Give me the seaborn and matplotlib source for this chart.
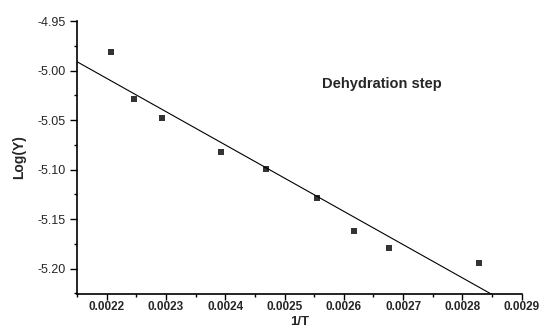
import numpy as np
import pandas as pd
import matplotlib
matplotlib.use('Agg')
import matplotlib.pyplot as plt
import seaborn as sns
from matplotlib.ticker import AutoMinorLocator

# values
inv_t = [0.0022067, 0.0022466, 0.0022933, 0.0023922, 0.0024686,
         0.0025541, 0.0026170, 0.0026755, 0.0028283]
log_y = [-4.981, -5.029, -5.048, -5.0823, -5.0995,
         -5.129, -5.1618, -5.1793, -5.1944]
x_ticks = [0.0022, 0.0023, 0.0024, 0.0025, 0.0026, 0.0027, 0.0028, 0.0029]
y_ticks = [-4.95, -5.00, -5.05, -5.10, -5.15, -5.20]

df = pd.DataFrame({'1/T': inv_t, 'Log(Y)': log_y})

sns.set_style('ticks')
plt.rcParams['font.family'] = ['Liberation Sans', 'DejaVu Sans']

fig = plt.figure(figsize=(5.42, 3.32), dpi=100)
ax = fig.add_axes([0.142, 0.1145, 0.8206, 0.8222])
ax.set_xlim(0.00215, 0.0029)
ax.set_ylim(-5.2256, -4.95)

# fitted line runs across the whole x range (truncate=False)
sns.regplot(data=df, x='1/T', y='Log(Y)', ax=ax, ci=None, truncate=False,
            marker='s', scatter_kws={'s': 16, 'color': 'black', 'linewidths': 0},
            line_kws={'color': 'black', 'linewidth': 0.8})
ax.set_xlim(0.00215, 0.0029)
ax.set_ylim(-5.2256, -4.95)

ax.set_xticks(x_ticks)
ax.set_xticklabels([f'{v:.4f}' for v in x_ticks], fontweight='bold', fontsize=8.5)
ax.set_yticks(y_ticks)
ax.set_yticklabels([f'{v:.2f}' for v in y_ticks], fontsize=9)
ax.xaxis.set_minor_locator(AutoMinorLocator(2))
ax.yaxis.set_minor_locator(AutoMinorLocator(2))
ax.tick_params(which='major', length=5, width=1, color='black', pad=3)
ax.tick_params(axis='x', which='major', length=4, pad=1)
ax.tick_params(which='minor', length=2.5, width=1, color='black')

for side in ['top', 'right']:
    ax.spines[side].set_visible(False)
for side in ['left', 'bottom']:
    ax.spines[side].set_color('black')
    ax.spines[side].set_linewidth(1.2)

ax.set_xlabel('1/T', fontweight='bold', fontsize=9.5)
ax.xaxis.set_label_coords(0.5, -0.082)
ax.set_ylabel('Log(Y)', fontweight='bold', fontsize=10, labelpad=8)
ax.text(0.0025626, -5.0135, 'Dehydration step', fontweight='bold', fontsize=10.5,
        va='center', ha='left')

fig.savefig('out.png', dpi=100)
